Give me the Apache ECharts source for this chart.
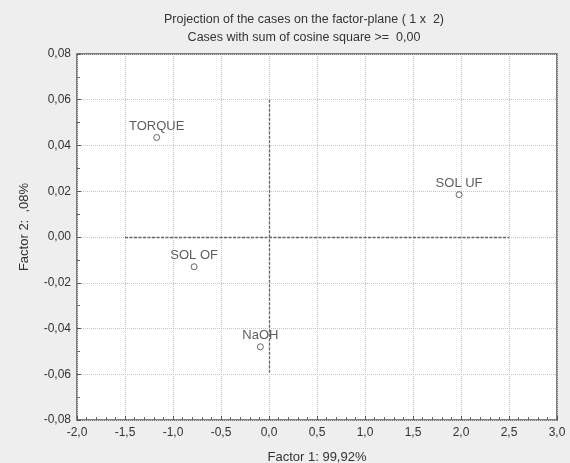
<!DOCTYPE html>
<html><head><meta charset="utf-8">
<script src="https://cdn.jsdelivr.net/npm/echarts@6/dist/echarts.min.js"></script>
<style>html,body{margin:0;padding:0;background:#eeeeee;}#c{width:570px;height:463px;}</style>
</head><body><div id="c"></div>
<script>
const caseNames = ['TORQUE', 'SOL OF', 'NaOH', 'SOL UF'];
const factor1 = [-1.17, -0.78, -0.09, 1.98];
const factor2 = [0.0435, -0.013, -0.048, 0.0185];
const hLine = [[-1.5, 0], [2.5, 0]];
const vLine = [[0, 0.06], [0, -0.06]];
const xTicks = [-2.0, -1.5, -1.0, -0.5, 0.0, 0.5, 1.0, 1.5, 2.0, 2.5, 3.0];
const yTicks = [-0.08, -0.06, -0.04, -0.02, 0.00, 0.02, 0.04, 0.06, 0.08];

const chart = echarts.init(document.getElementById('c'));
const font = 'Liberation Sans, Arial, sans-serif';
const txt = '#333333';
chart.setOption({
  backgroundColor: '#eeeeee',
  animation: false,
  title: [
    {text: 'Projection of the cases on the factor-plane ( 1 x  2)', left: 299, top: 8, textAlign: 'center',
     textStyle: {fontFamily: font, fontSize: 12.5, fontWeight: 'normal', color: txt}},
    {text: 'Cases with sum of cosine square >=  0,00', left: 299, top: 26, textAlign: 'center',
     textStyle: {fontFamily: font, fontSize: 12.5, fontWeight: 'normal', color: txt}}
  ],
  grid: {left: 77, right: 13, top: 54, bottom: 43, containLabel: false, outerBoundsMode: 'none',
    show: true, backgroundColor: '#ffffff', borderColor: '#555', borderWidth: 1.5},
  xAxis: {
    type: 'value', min: xTicks[0], max: xTicks[xTicks.length - 1], interval: 0.5,
    name: 'Factor 1: 99,92%', nameLocation: 'middle', nameGap: 31,
    nameTextStyle: {fontFamily: font, fontSize: 13, color: txt},
    axisLine: {show: false, onZero: false},
    axisTick: {show: true, inside: true, length: 4, lineStyle: {color: '#555'}},
    minorTick: {show: true, splitNumber: 5, length: 3, lineStyle: {color: '#666'}},
    axisLabel: {fontFamily: font, fontSize: 12, color: txt, margin: 7,
      formatter: v => v.toFixed(1).replace('.', ',')},
    splitLine: {show: true, lineStyle: {color: '#c4c4c4', type: 'dotted', width: 1}}
  },
  yAxis: {
    type: 'value', min: yTicks[0], max: yTicks[yTicks.length - 1], interval: 0.02,
    name: 'Factor 2:  ,08%', nameLocation: 'middle', nameGap: 46, nameRotate: 90,
    nameTextStyle: {fontFamily: font, fontSize: 13, color: txt, padding: [0, 0, 0, 20]},
    axisLine: {show: false, onZero: false},
    axisTick: {show: true, inside: true, length: 4, lineStyle: {color: '#555'}},
    minorTick: {show: true, splitNumber: 2, length: 3, lineStyle: {color: '#666'}},
    axisLabel: {fontFamily: font, fontSize: 12, color: txt, margin: 6,
      formatter: v => v.toFixed(2).replace('.', ',')},
    splitLine: {show: true, lineStyle: {color: '#c4c4c4', type: 'dotted', width: 1}}
  },
  series: [{
    type: 'scatter',
    symbol: 'circle', symbolSize: 6,
    itemStyle: {color: '#ffffff', borderColor: '#444', borderWidth: 1},
    data: caseNames.map((n, i) => ({name: n, value: [factor1[i], factor2[i]]})),
    label: {show: true, position: 'top', distance: 1, formatter: p => p.name,
      fontFamily: font, fontSize: 13, color: txt},
    markLine: {
      silent: true, symbol: 'none', label: {show: false},
      lineStyle: {color: '#666', type: [3, 1.5], width: 1.3},
      data: [
        [{coord: hLine[0]}, {coord: hLine[1]}],
        [{coord: vLine[0]}, {coord: vLine[1]}]
      ]
    }
  }]
});
</script></body></html>
